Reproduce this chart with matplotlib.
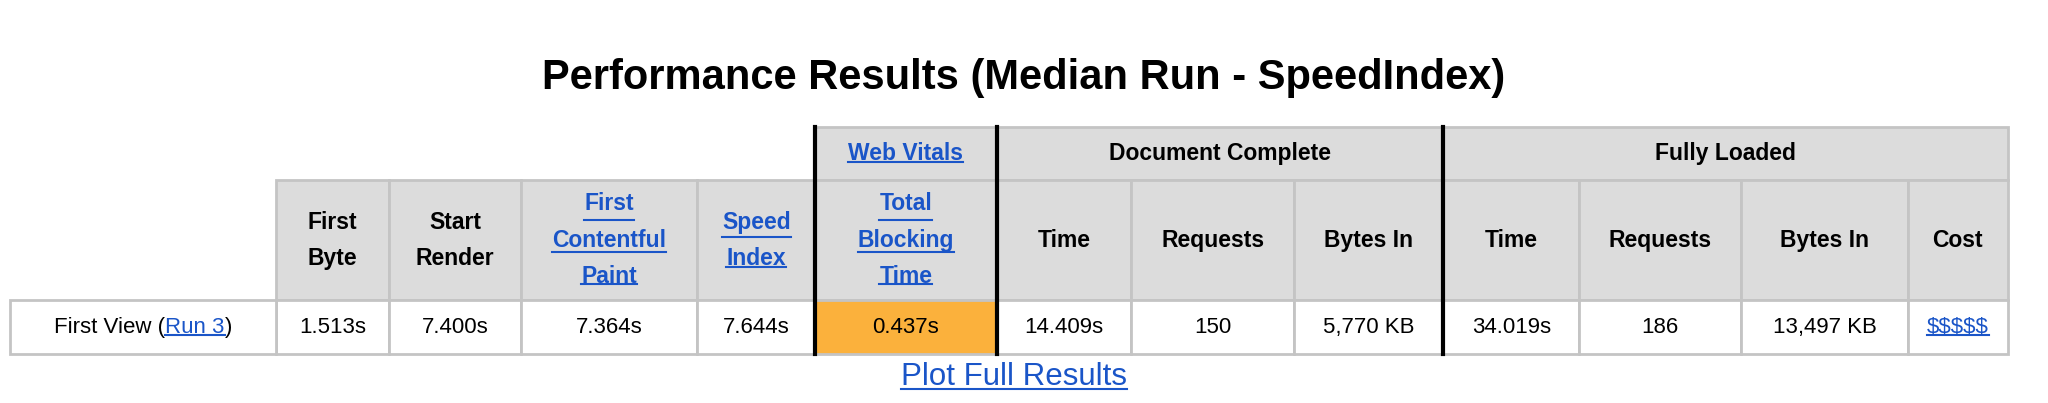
import matplotlib
matplotlib.use("Agg")
import matplotlib.pyplot as plt
from matplotlib.patches import Rectangle

plt.rcParams['font.family'] = ['Liberation Sans', 'DejaVu Sans']

title = "Performance Results (Median Run - SpeedIndex)"
group_labels = ["Web Vitals", "Document Complete", "Fully Loaded"]
group_links = [True, False, False]
col_labels = ["First\nByte", "Start\nRender", "First\nContentful\nPaint", "Speed\nIndex",
              "Total\nBlocking\nTime", "Time", "Requests", "Bytes In",
              "Time", "Requests", "Bytes In", "Cost"]
col_links = [False, False, True, True, True, False, False, False, False, False, False, False]
row_values = ["1.513s", "7.400s", "7.364s", "7.644s", "0.437s", "14.409s", "150", "5,770 KB",
              "34.019s", "186", "13,497 KB", "$$$$$"]
value_links = [False] * 11 + [True]
footer = "Plot Full Results"

S = 2048 / 1568
xe = [v * S for v in [8, 211, 298, 399, 534, 624, 763, 866, 991, 1105, 1209, 1333, 1461, 1537]]
y0, y1, y2, y3 = [v * S for v in [97, 138, 230, 271]]
group_span = [(5, 6), (6, 9), (9, 13)]

GRAY = "#dcdcdc"
LINE = "#c4c4c4"
ORANGE = "#fbb13c"
BLUE = "#1a55c8"

fig = plt.figure(figsize=(20.48, 4.03), dpi=100)
ax = fig.add_axes([0, 0, 1, 1])
ax.set_xlim(0, 2048)
ax.set_ylim(403, 0)
ax.axis('off')

def cell(x0, x1, ya, yb, fc):
    ax.add_patch(Rectangle((x0, ya), x1 - x0, yb - ya, facecolor=fc, edgecolor=LINE, linewidth=2))

texts_to_underline = []

def put(x, y, s, link=False, bold=False, size=16, ha='center'):
    t = ax.text(x, y, s, ha=ha, va='center', fontsize=size, fontweight='bold' if bold else 'normal',
                color=BLUE if link else 'black', linespacing=1.75, multialignment='center')
    if link:
        texts_to_underline.append(t)
    return t

# group header row
for (a, b), lab, lk in zip(group_span, group_labels, group_links):
    cell(xe[a], xe[b], y0, y1, GRAY)
    put((xe[a] + xe[b]) / 2, (y0 + y1) / 2, lab, link=lk, bold=True, size=16.5)

# column header row and value row
for i in range(12):
    a, b = xe[i + 1], xe[i + 2]
    cell(a, b, y1, y2, GRAY)
    put((a + b) / 2, (y1 + y2) / 2, col_labels[i], link=col_links[i], bold=True, size=16.5)
    cell(a, b, y2, y3, ORANGE if i == 4 else "white")
    put((a + b) / 2, (y2 + y3) / 2, row_values[i], link=value_links[i], size=16)

cell(xe[0], xe[1], y2, y3, "white")

# thick separators
for k in [5, 6, 9]:
    ax.plot([xe[k], xe[k]], [y0, y3], color='black', linewidth=3)

ax.text(1024, 60 * S, title, ha='center', va='center', fontsize=30, fontweight='bold')

fig.canvas.draw()
r = fig.canvas.get_renderer()
inv = ax.transData.inverted()

# row label with a link piece
parts = [("First View (", False), ("Run 3", True), (")", False)]
widths = []
tmp = []
for s, lk in parts:
    t = ax.text(0, (y2 + y3) / 2, s, ha='left', va='center', fontsize=16, color=BLUE if lk else 'black')
    tmp.append(t)
fig.canvas.draw()
for t in tmp:
    bb = t.get_window_extent(r)
    widths.append(bb.width)
total = sum(widths)
xstart = (xe[0] + xe[1]) / 2 - total / 2
for t, w, (s, lk) in zip(tmp, widths, parts):
    t.set_x(xstart)
    if lk:
        texts_to_underline.append(t)
    xstart += w

ft = put(776 * S, 289 * S, footer, link=True, size=22.5)
fig.canvas.draw()

for t in texts_to_underline:
    lines = t.get_text().split('\n')
    bb = t.get_window_extent(r)
    n = len(lines)
    lh = bb.height / n
    for j, ln in enumerate(lines):
        probe = ax.text(0, 0, ln, fontsize=t.get_fontsize(), fontweight=t.get_fontweight())
        w = probe.get_window_extent(r).width
        probe.remove()
        cx = (bb.x0 + bb.x1) / 2 if t.get_ha() == 'center' else bb.x0 + w / 2
        ybase = bb.y1 - (j + 1) * lh + lh * 0.12
        (xa, ya), (xb, yb) = inv.transform([(cx - w / 2, ybase), (cx + w / 2, ybase)])
        ax.plot([xa, xb], [ya, yb], color=BLUE, linewidth=1.5)

fig.savefig("out.png", dpi=100)
